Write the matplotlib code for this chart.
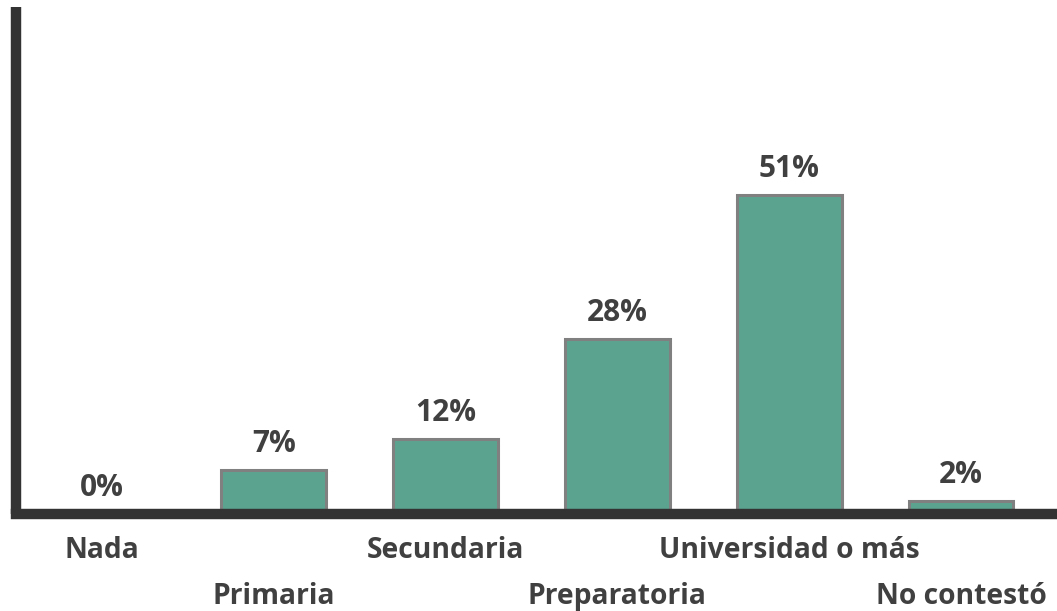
import matplotlib
matplotlib.use("Agg")
import matplotlib.pyplot as plt

categories = ["Nada", "Primaria", "Secundaria", "Preparatoria", "Universidad o más", "No contestó"]
values = [0, 7, 12, 28, 51, 2]
value_labels = ["0%", "7%", "12%", "28%", "51%", "2%"]

plt.rcParams['font.family'] = ['Open Sans', 'DejaVu Sans']

fig = plt.figure(figsize=(10.57, 6.11), dpi=100)
ax = fig.add_axes([16/1057, 97/611, (1052-16)/1057, (514-7)/611])

x = list(range(len(categories)))
bars = ax.bar(x, values, width=0.61, color="#5BA38F", edgecolor="#808080", linewidth=2.2, zorder=2)

for xi, v, lab in zip(x, values, value_labels):
    ax.annotate(lab, (xi, v), xytext=(0, 8), textcoords="offset points",
                ha="center", va="bottom", fontsize=21.5, fontweight="bold", color="#404040")

ax.set_xlim(-0.5, 5.53)
ax.set_ylim(0, 81)

major_x = x[0::2]
minor_x = x[1::2]
ax.set_xticks(major_x)
ax.set_xticklabels(categories[0::2], fontsize=20.3, fontweight="bold", color="#404040")
ax.set_xticks(minor_x, minor=True)
ax.set_xticklabels(categories[1::2], minor=True, fontsize=20.3, fontweight="bold", color="#404040")
ax.tick_params(axis="x", which="major", length=0, pad=16)
ax.tick_params(axis="x", which="minor", length=0, pad=49)
ax.set_yticks([])

for s in ["top", "right"]:
    ax.spines[s].set_visible(False)
for s in ["left", "bottom"]:
    ax.spines[s].set_linewidth(7.5)
    ax.spines[s].set_color("#333333")
    ax.spines[s].set_zorder(3)
ax.spines["left"].set_capstyle("butt")

fig.savefig("out.png", dpi=100)
